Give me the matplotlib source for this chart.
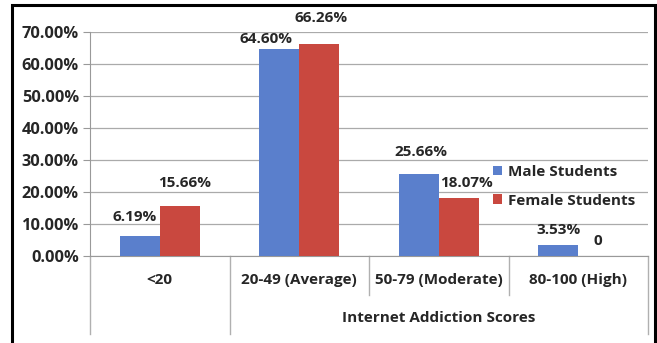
import matplotlib
matplotlib.use("Agg")
import matplotlib.pyplot as plt
from matplotlib.patches import Rectangle
import numpy as np

# === DATA ===
categories = ["<20", "20-49 (Average)", "50-79 (Moderate)", "80-100 (High)"]
group_label = "Internet Addiction Scores"
male = [6.19, 64.60, 25.66, 3.53]
female = [15.66, 66.26, 18.07, 0.0]
male_text = ["6.19%", "64.60%", "25.66%", "3.53%"]
female_text = ["15.66%", "66.26%", "18.07%", "0"]

# label nudges in pixels (dx, dy above bar top)
male_off = [(-5, 19), (-13, 10), (2, 22), (0, 15)]
female_off = [(5, 23), (2, 26), (8, 15), (0, 15)]

BLUE = "#5A7FCC"
RED = "#C9483F"
TXT = "#262626"
FONT = "Open Sans"
FS = 11.0
FS_TICK = 11.8

W, H = 657, 343
fig = plt.figure(figsize=(W / 100, H / 100), dpi=100)

# outer chart frame
fig.patches.append(Rectangle((12 / W, -0.02), (655 - 12) / W, (343 - 5) / H + 0.02,
                             transform=fig.transFigure, fill=False,
                             edgecolor="black", linewidth=2.2))

ax = fig.add_axes([90 / W, (H - 256) / H, (648 - 90) / W, (256 - 32) / H])
x = np.arange(len(categories))
bw = 0.285

bm = ax.bar(x - bw / 2, male, bw, color=BLUE, label="Male Students", zorder=3)
bf = ax.bar(x + bw / 2, female, bw, color=RED, label="Female Students", zorder=3)

for rect, txt, (dx, dy) in zip(bm, male_text, male_off):
    ax.annotate(txt, (rect.get_x() + rect.get_width() / 2, rect.get_height()),
                xytext=(dx, dy), textcoords="offset pixels", ha="center", va="center",
                fontsize=FS, fontweight="bold", family=FONT, color=TXT)
for rect, txt, (dx, dy) in zip(bf, female_text, female_off):
    ax.annotate(txt, (rect.get_x() + rect.get_width() / 2, rect.get_height()),
                xytext=(dx, dy), textcoords="offset pixels", ha="center", va="center",
                fontsize=FS, fontweight="bold", family=FONT, color=TXT)

ax.set_xlim(-0.5, len(categories) - 0.5)
ax.set_ylim(0, 70)
ax.set_yticks(np.arange(0, 71, 10))
ax.set_yticklabels([f"{v:.2f}%" for v in np.arange(0, 71, 10)],
                   fontsize=FS_TICK, fontweight="bold", family=FONT, color=TXT)
ax.tick_params(axis="y", length=5, color="#999999", pad=3)
ax.set_xticks([])
ax.grid(axis="y", color="#AAAAAA", linewidth=0.9, zorder=0)

for s in ["top", "right"]:
    ax.spines[s].set_visible(False)
ax.spines["left"].set_color("#999999")
ax.spines["bottom"].set_color("#999999")

# multi-level category axis
trans = ax.get_xaxis_transform()
px = 1 / (256 - 32)
for i, b in enumerate(np.arange(-0.5, len(categories), 1.0)):
    depth = 78 if i in (0, 1, len(categories)) else 39
    ax.plot([b, b], [0, -depth * px], transform=trans, color="#B0B0B0",
            linewidth=1.0, clip_on=False)
for i, c in enumerate(categories):
    ax.text(i, -24 * px, c, transform=trans, ha="center", va="center",
            fontsize=FS, fontweight="bold", family=FONT, color=TXT)
ax.text((1 + len(categories) - 1) / 2, -62 * px, group_label, transform=trans,
        ha="center", va="center", fontsize=FS, fontweight="bold", family=FONT, color=TXT)

leg = ax.legend(loc="upper left", bbox_to_anchor=(403 / 558, (256 - 165) / 224), frameon=False,
                prop={"family": FONT, "weight": "bold", "size": FS},
                handlelength=0.6, handleheight=0.6, handletextpad=0.4,
                labelspacing=0.95, borderaxespad=0, borderpad=0)
for t in leg.get_texts():
    t.set_color(TXT)

fig.savefig("out.png", dpi=100, facecolor="white")
